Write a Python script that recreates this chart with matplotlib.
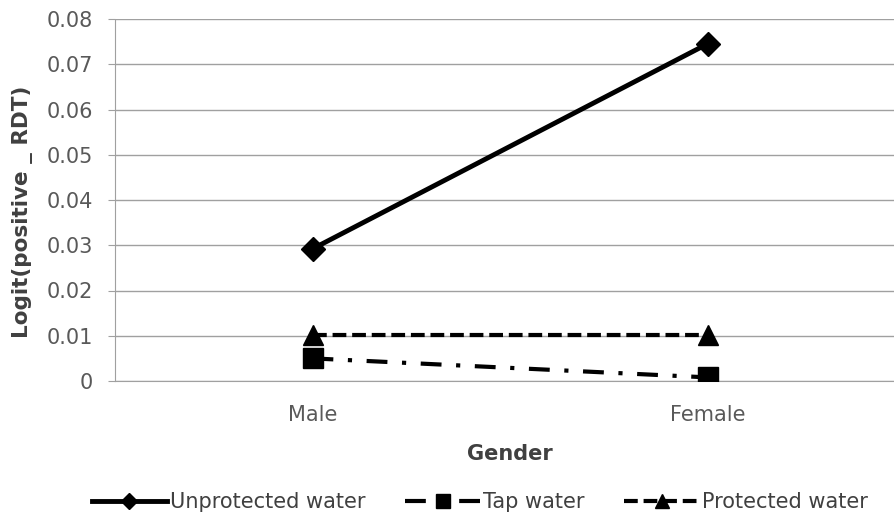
import matplotlib
matplotlib.use("Agg")
import matplotlib.pyplot as plt

plt.rcParams['font.family'] = ['DejaVu Sans']

categories = ["Male", "Female"]
unprotected = [0.0292, 0.0745]
tap = [0.0050, 0.0008]
protected = [0.0102, 0.0102]
yticks = [0, 0.01, 0.02, 0.03, 0.04, 0.05, 0.06, 0.07, 0.08]
ytick_labels = ["0", "0.01", "0.02", "0.03", "0.04", "0.05", "0.06", "0.07", "0.08"]

fig = plt.figure(figsize=(8.94, 5.23), dpi=100)
ax = fig.add_axes([115/894, 142/523, 790/894, 362/523])
x = list(range(len(categories)))

ax.plot(x, unprotected, color='black', lw=3.5, ls='-', marker='D', ms=12, label='Unprotected water', zorder=3)
ax.plot(x, tap, color='black', lw=3, ls=(0, (5, 3.5, 1, 3.5)), marker='s', ms=15, label='Tap water', zorder=3)
ax.plot(x, protected, color='black', lw=3, ls=(0, (3.3, 1.4)), marker='^', ms=15, label='Protected water', zorder=3)

ax.set_xlim(-0.5, 1.5)
ax.set_ylim(0, 0.08)
ax.set_yticks(yticks)
ax.set_yticklabels(ytick_labels)
ax.set_xticks(x)
ax.set_xticklabels(categories)
ax.yaxis.grid(True, color='#a0a0a0', lw=1)
ax.set_axisbelow(True)
for s in ['top', 'right']:
    ax.spines[s].set_visible(False)
ax.spines['left'].set_color('#a0a0a0')
ax.spines['left'].set_linestyle((0, (1, 1)))
ax.spines['bottom'].set_color('#a0a0a0')
ax.tick_params(axis='y', colors='#a0a0a0', labelcolor='#595959', labelsize=15, length=5, pad=11, direction='out')
ax.tick_params(axis='x', length=0, labelcolor='#595959', labelsize=15, pad=17)

ax.set_xlabel("Gender", fontsize=15, fontweight='bold', color='#404040', labelpad=14)
ax.set_ylabel("Logit(positive _ RDT)", fontsize=15.5, fontweight='bold', color='#404040')
ax.yaxis.set_label_coords(-0.104, 0.467)

handles, labels = ax.get_legend_handles_labels()
fig.legend(handles, labels, loc='center', bbox_to_anchor=(0.537, 0.04), ncol=3, frameon=False,
           fontsize=15, labelcolor='#404040', handlelength=3.6, handletextpad=0.15,
           columnspacing=1.9, markerscale=0.65)

fig.savefig("out.png", dpi=100)
